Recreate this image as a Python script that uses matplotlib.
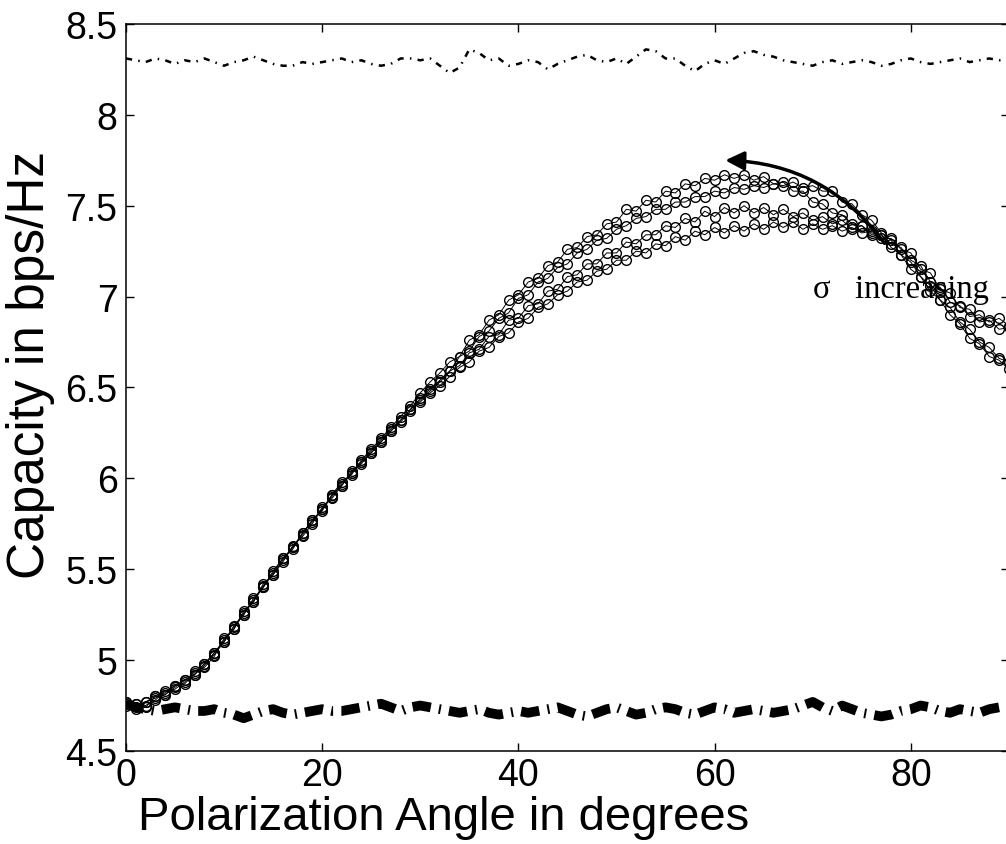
import matplotlib
matplotlib.use("Agg")
import matplotlib.pyplot as plt
from matplotlib.patches import FancyArrowPatch
import numpy as np

# polarization angle, one sample per degree
angle = np.arange(0, 91)

# upper dash-dot reference line
top_line = [8.31, 8.30, 8.29, 8.31, 8.30, 8.28, 8.30, 8.29, 8.31, 8.29,
            8.27, 8.29, 8.30, 8.32, 8.30, 8.28, 8.27, 8.27, 8.29, 8.28,
            8.29, 8.30, 8.31, 8.29, 8.30, 8.28, 8.27, 8.28, 8.31, 8.31,
            8.30, 8.31, 8.27, 8.23, 8.26, 8.36, 8.34, 8.30, 8.31, 8.27,
            8.28, 8.30, 8.29, 8.25, 8.28, 8.30, 8.32, 8.33, 8.30, 8.29,
            8.31, 8.28, 8.32, 8.36, 8.35, 8.31, 8.31, 8.27, 8.24, 8.28,
            8.30, 8.28, 8.31, 8.34, 8.35, 8.33, 8.32, 8.30, 8.29, 8.28,
            8.27, 8.29, 8.30, 8.28, 8.29, 8.30, 8.29, 8.27, 8.28, 8.30,
            8.31, 8.29, 8.28, 8.29, 8.30, 8.31, 8.29, 8.30, 8.31, 8.30,
            8.31]

# lower dash-dot reference line
bottom_line = [4.76, 4.74, 4.73, 4.72, 4.73, 4.74, 4.73, 4.72, 4.72, 4.73,
               4.71, 4.70, 4.68, 4.70, 4.72, 4.73, 4.71, 4.70, 4.71, 4.72,
               4.73, 4.72, 4.72, 4.73, 4.74, 4.75, 4.76, 4.74, 4.72, 4.74,
               4.75, 4.74, 4.73, 4.72, 4.71, 4.72, 4.73, 4.71, 4.70, 4.71,
               4.72, 4.71, 4.72, 4.73, 4.74, 4.72, 4.70, 4.69, 4.71, 4.73,
               4.74, 4.72, 4.70, 4.71, 4.73, 4.74, 4.73, 4.71, 4.70, 4.72,
               4.74, 4.73, 4.71, 4.72, 4.73, 4.72, 4.71, 4.72, 4.73, 4.75,
               4.77, 4.74, 4.72, 4.75, 4.73, 4.71, 4.70, 4.69, 4.70, 4.72,
               4.73, 4.75, 4.74, 4.72, 4.71, 4.73, 4.72, 4.71, 4.73, 4.74,
               4.75]

# four capacity curves (circle markers), different sigma
cap_1 = [4.77, 4.74, 4.77, 4.80, 4.81, 4.86, 4.89, 4.92, 4.98, 5.04,
         5.10, 5.19, 5.25, 5.34, 5.40, 5.49, 5.56, 5.61, 5.70, 5.77,
         5.82, 5.91, 5.98, 6.02, 6.10, 6.16, 6.22, 6.28, 6.34, 6.40,
         6.47, 6.53, 6.58, 6.64, 6.67, 6.76, 6.79, 6.87, 6.90, 6.98,
         7.01, 7.08, 7.10, 7.17, 7.19, 7.26, 7.27, 7.33, 7.34, 7.40,
         7.41, 7.48, 7.47, 7.53, 7.52, 7.58, 7.57, 7.62, 7.61, 7.65,
         7.64, 7.67, 7.65, 7.67, 7.64, 7.66, 7.62, 7.63, 7.58, 7.58,
         7.52, 7.51, 7.46, 7.45, 7.40, 7.39, 7.35, 7.34, 7.27, 7.23,
         7.15, 7.11, 7.03, 6.98, 6.90, 6.85, 6.77, 6.74, 6.67, 6.65,
         6.60]
cap_2 = [4.75, 4.76, 4.75, 4.78, 4.83, 4.84, 4.88, 4.94, 4.96, 5.02,
         5.12, 5.17, 5.27, 5.32, 5.42, 5.47, 5.54, 5.63, 5.68, 5.75,
         5.84, 5.89, 5.96, 6.04, 6.08, 6.14, 6.20, 6.26, 6.32, 6.38,
         6.44, 6.49, 6.54, 6.59, 6.67, 6.70, 6.78, 6.81, 6.88, 6.91,
         6.99, 7.01, 7.08, 7.10, 7.16, 7.18, 7.24, 7.26, 7.31, 7.32,
         7.37, 7.39, 7.43, 7.44, 7.48, 7.48, 7.52, 7.52, 7.55, 7.55,
         7.58, 7.57, 7.60, 7.59, 7.61, 7.60, 7.62, 7.61, 7.63, 7.60,
         7.61, 7.58, 7.58, 7.52, 7.51, 7.45, 7.42, 7.35, 7.31, 7.23,
         7.19, 7.11, 7.06, 6.98, 6.94, 6.86, 6.82, 6.75, 6.72, 6.66,
         6.64]
cap_3 = [4.76, 4.73, 4.77, 4.79, 4.82, 4.86, 4.87, 4.93, 4.98, 5.03,
         5.10, 5.18, 5.25, 5.33, 5.40, 5.48, 5.56, 5.62, 5.69, 5.77,
         5.83, 5.90, 5.97, 6.03, 6.09, 6.15, 6.21, 6.27, 6.32, 6.38,
         6.43, 6.48, 6.53, 6.59, 6.62, 6.69, 6.71, 6.78, 6.79, 6.87,
         6.88, 6.95, 6.96, 7.03, 7.04, 7.11, 7.12, 7.18, 7.18, 7.24,
         7.24, 7.30, 7.29, 7.34, 7.34, 7.39, 7.38, 7.43, 7.41, 7.47,
         7.44, 7.49, 7.46, 7.50, 7.46, 7.49, 7.45, 7.48, 7.44, 7.46,
         7.42, 7.44, 7.40, 7.42, 7.37, 7.39, 7.34, 7.34, 7.29, 7.27,
         7.20, 7.17, 7.08, 7.05, 6.97, 6.95, 6.89, 6.90, 6.86, 6.88,
         6.84]
cap_4 = [4.77, 4.76, 4.74, 4.80, 4.81, 4.85, 4.89, 4.92, 4.97, 5.04,
         5.11, 5.17, 5.26, 5.32, 5.41, 5.47, 5.55, 5.62, 5.70, 5.76,
         5.83, 5.91, 5.96, 6.03, 6.09, 6.14, 6.20, 6.26, 6.31, 6.37,
         6.42, 6.47, 6.51, 6.56, 6.61, 6.64, 6.70, 6.72, 6.78, 6.80,
         6.86, 6.88, 6.94, 6.96, 7.01, 7.03, 7.08, 7.09, 7.14, 7.15,
         7.20, 7.20, 7.25, 7.24, 7.29, 7.28, 7.33, 7.31, 7.36, 7.34,
         7.38, 7.35, 7.39, 7.36, 7.40, 7.37, 7.41, 7.38, 7.41, 7.37,
         7.40, 7.37, 7.39, 7.36, 7.38, 7.35, 7.36, 7.32, 7.32, 7.26,
         7.24, 7.15, 7.13, 7.04, 7.02, 6.94, 6.93, 6.86, 6.87, 6.82,
         6.83]
curves = [cap_1, cap_2, cap_3, cap_4]

x_ticks = [0, 20, 40, 60, 80]
y_ticks = [4.5, 5, 5.5, 6, 6.5, 7, 7.5, 8, 8.5]
y_tick_labels = ["4.5", "5", "5.5", "6", "6.5", "7", "7.5", "8", "8.5"]

plt.rcParams["font.family"] = ["Liberation Sans", "DejaVu Sans"]

fig = plt.figure(figsize=(10.06, 8.45), dpi=100)
# axes run slightly past the right edge, like the cropped original
ax = fig.add_axes([0.1252, 0.1101, 0.8777, 0.8604])

ax.plot(angle, top_line, color="black", linewidth=1.8,
        linestyle=(0, (2.5, 2.5, 0.6, 2.5)))
ax.plot(angle, bottom_line, color="black", linewidth=7,
        linestyle=(0, (1.9, 0.85, 0.2, 0.85)))
for c in curves:
    ax.plot(angle, c, color="black", linewidth=0.7, marker="o",
            markersize=7, markerfacecolor="none", markeredgewidth=1.0)

ax.set_xlim(0, 90)
ax.set_ylim(4.5, 8.5)
ax.set_xticks(x_ticks)
ax.set_yticks(y_ticks)
ax.set_yticklabels(y_tick_labels)
ax.tick_params(direction="in", length=6, width=1, top=True, right=True,
               labelsize=27)
ax.tick_params(axis="x", pad=4)
ax.tick_params(axis="y", pad=6)
for s in ax.spines.values():
    s.set_linewidth(1.1)

ax.set_xlabel("Polarization Angle in degrees", fontsize=34)
ax.xaxis.label.set_va("baseline")
ax.xaxis.set_label_coords(0.36, -0.1075)
ax.set_ylabel("Capacity in bps/Hz", fontsize=37)
ax.yaxis.set_label_coords(-0.080, 0.532)

# curved arrow with the sigma note
arrow = FancyArrowPatch((77.5, 7.28), (60.8, 7.75),
                        connectionstyle="arc3,rad=0.25",
                        arrowstyle="-|>", mutation_scale=28,
                        linewidth=2.5, color="black")
ax.add_patch(arrow)
ax.text(70.0, 7.0, "σ   increasing", fontsize=23.5,
        family=["Liberation Serif", "DejaVu Serif"], va="baseline")

fig.savefig("out.png", dpi=100)
